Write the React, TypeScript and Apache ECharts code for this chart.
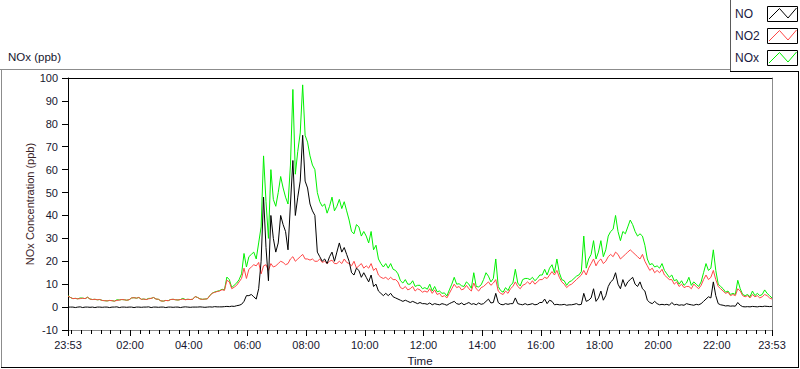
import React, { useEffect, useRef } from "react";
import * as echarts from "echarts";

// 5-minute samples starting at 23:53 (t = -7 min relative to midnight)
const START_MIN = -7;
const STEP_MIN = 5;

const NO_VALUES: number[] = [
  0, 0,
  0, -0.2, 0, 0.1, -0.2, 0, 0, -0.1, 0, -0.2, 0, 0,
  -0.1, 0, 0, -0.2, 0, 0, 0.1, -0.2, 0, 0, -0.1, 0,
  0, -0.2, 0, 0, -0.1, 0, 0, 0.1, -0.2, 0, 0, -0.1,
  0, 0, -0.2, 0, 0, -0.1, 0, 0, -0.2, 0, 0.1, 0,
  -0.1, 0, 0, 0, 0.1, 0, -0.1, 0, 0.1, 0, 0.2, 0.1,
  0.1, 0.1, 0.2, 0.3, 0.2, 0.4, 0.3, 0.6, 0.8, 1.2, 2.5, 5.0,
  5.0, 5.5, 4.5, 3.5, 8.0, 20.0, 48.0, 26.0, 11.5, 40.0, 30.0, 24.0,
  28, 40, 36, 33, 25, 45, 64, 40, 48, 55, 75, 55,
  52, 45, 42, 40, 24, 22, 20, 21, 19, 22, 24, 20,
  24, 28, 24, 26, 23, 20, 15, 14, 17, 16, 13, 15,
  13, 11, 14, 9, 10, 7, 6, 5, 6, 5, 6, 4.5,
  4, 3.5, 3, 2.5, 3, 2.5, 2, 2.5, 2, 1.5, 2, 1.5,
  1.5, 1.2, 1.8, 1.0, 1.5, 1.2, 1.0, 1.5, 1.2, 0.8, 1.5, 2.0,
  2.5, 1.5, 1.2, 1.8, 1.0, 1.5, 2.0, 1.2, 1.5, 1.0, 1.8, 1.2,
  1.5, 2.5, 3.5, 1.8, 2.0, 6.0, 2.0, 1.2, 1.0, 1.5, 1.2, 1.5,
  1.5, 4.0, 1.5, 1.2, 1.0, 1.5, 1.0, 1.2, 1.5, 1.0, 1.2, 2.0,
  2.0, 3.5, 1.5, 3.0, 2.5, 1.0, 1.2, 1.0, 1.0, 1.2, 0.8, 1.0,
  1.0, 1.2, 1.5, 1.0, 1.2, 6.0, 2.5, 3.0, 4.0, 8.0, 2.5, 4.0,
  7, 3, 5, 9, 11, 12, 15, 10, 8, 12, 9, 11,
  12, 13, 10, 9, 11, 8, 7, 3, 2, 1.5, 2.5, 1.5,
  1.0, 1.2, 1.0, 1.2, 0.8, 2.0, 1.0, 1.2, 0.8, 1.0, 0.8, 1.5,
  1.2, 1.0, 0.8, 1.2, 1.0, 1.5, 2.5, 3.5, 4.5, 4.0, 11, 5,
  1.5, 1.0, 0.8, 0.5, 0.6, 0.4, 0.5, 0.4, 2.0, 0.8, 0.2, 0.1,
  0.2, 0.1, 0.3, 0.2, 0.1, 0.3, 0.2, 0.4, 0.3, 0.2, 0.3,
];

const NO2_VALUES: number[] = [
  4.8, 4.2,
  3.7, 3.8, 3.6, 3.7, 3.9, 3.7, 4.3, 3.5, 3.3, 3.4, 3.2, 3.3,
  2.9, 2.8, 2.7, 2.9, 2.8, 2.6, 2.9, 3.1, 3.3, 3.2, 3.0, 3.2,
  4.0, 4.1, 3.9, 4.2, 3.4, 3.5, 3.3, 3.6, 3.8, 4.2, 3.5, 3.4,
  2.7, 2.6, 2.9, 2.8, 3.3, 3.4, 3.2, 3.1, 3.3, 3.5, 3.2, 3.4,
  3.3, 3.4, 4.6, 4.2, 3.5, 3.4, 3.5, 3.6, 4.9, 6.1, 6.4, 6.8,
  7.0, 7.6, 7.3, 11.7, 11.0, 8.0, 8.7, 9.5, 11.0, 12.5, 17.0, 12.5,
  16.5, 17.5, 18.5, 18.0, 19.5, 14.5, 18.0, 18.5, 16.0, 19.0, 17.5, 18.0,
  19, 20, 19.5, 18.5, 19, 21, 22, 20, 21, 22, 23, 21,
  21, 20.5, 21, 20, 20, 21, 19.5, 20, 19, 20, 20.5, 19,
  19, 20, 19, 21, 19.5, 19, 18, 20, 17, 18, 19, 17,
  18, 17, 19, 16, 17, 14, 13, 12.5, 13, 12, 13, 12,
  12, 11, 8.5, 8, 9, 7.5, 8, 9, 7, 8, 7.5, 6.5,
  7, 6.5, 8, 6, 7.5, 5.5, 6, 4.5, 5, 4, 6, 8,
  10, 8.5, 9, 7.5, 8, 9.5, 8, 7, 10.5, 8, 7, 8.5,
  9, 10, 11, 9.5, 10.5, 12, 7, 6, 5.5, 7, 6, 8,
  9, 11, 9, 8, 9.5, 10, 11, 10, 11.5, 10, 11, 12,
  12, 13, 12.5, 14, 15.5, 14, 16, 13, 11, 10, 8.5, 9.5,
  10, 11, 12, 13, 14, 16, 14, 17, 19, 21, 18, 20,
  21, 19, 20, 22, 23, 22, 24, 23, 21, 22, 23, 24,
  25, 24, 23, 22, 21, 23, 20, 18, 16, 17, 15, 16,
  15, 16.5, 14, 13, 12, 12, 10, 11, 9, 10, 8.5, 9,
  9, 8, 10, 9, 8, 9.5, 12, 14, 12, 13, 16, 12,
  9, 8, 7, 6, 6.5, 5, 5.5, 5, 8, 7, 5, 4.5,
  5, 4, 5.5, 4.5, 5, 4, 4.5, 5.5, 5, 4, 3.5,
];

const NOX_VALUES: number[] = [
  5.0, 4.2,
  3.7, 3.8, 3.6, 4.0, 3.9, 3.7, 4.3, 3.5, 3.3, 3.4, 3.2, 3.3,
  2.9, 2.8, 2.7, 2.9, 2.8, 2.6, 3.2, 3.1, 3.3, 3.2, 3.0, 3.2,
  4.0, 4.1, 3.9, 4.2, 3.4, 3.5, 3.3, 3.8, 3.8, 4.2, 3.5, 3.4,
  2.7, 2.6, 2.9, 2.8, 3.3, 3.4, 3.2, 3.1, 3.3, 3.8, 3.3, 3.4,
  3.3, 3.4, 4.6, 4.2, 3.6, 3.4, 3.5, 3.6, 5.0, 6.1, 6.6, 6.9,
  7.2, 7.8, 7.5, 13.1, 12.0, 8.5, 9.6, 10.5, 12.0, 14.5, 23.4, 17.5,
  22.0, 23.0, 24.0, 21.0, 28.0, 35.0, 66.0, 46.0, 30.0, 60.0, 47.0, 44.0,
  50, 57, 52, 48, 45, 62, 95, 58, 68, 76, 97, 75,
  72, 66, 62, 60, 50, 46, 44, 45, 41, 44, 48, 42,
  44, 47, 43, 46, 42, 38, 33, 32, 36, 35, 31, 33,
  31, 28, 33, 25, 27, 21, 19, 17.5, 19, 17, 19, 16.5,
  16, 14.5, 11.5, 10.5, 12, 10, 10, 11.5, 9, 9.5, 9.5, 8,
  8.5, 7.8, 10, 7, 9, 6.7, 7, 6, 6.2, 4.8, 7.5, 10,
  13, 10, 10.2, 9.3, 9, 11, 10, 8.2, 15, 9, 8.8, 9.7,
  12, 15, 13.5, 11, 12.5, 21, 9, 7.2, 6.5, 8.5, 7.2, 9.5,
  10.5, 16.5, 10.5, 9.2, 12, 12.5, 12.5, 12, 13, 11.5, 12.5, 14,
  14, 16.5, 14, 17, 18.5, 15, 21, 15, 12, 11.5, 9.5, 11,
  11.5, 12.5, 13.5, 14, 15.5, 31, 17, 21, 23, 29, 21, 24,
  29, 22, 25, 31, 33, 34, 40, 33, 29, 33, 32, 35,
  38, 36, 33, 31, 32, 31, 27, 21, 18.5, 19, 17.5, 18,
  17, 19, 16, 14.5, 13, 14, 11.5, 12, 10, 11.5, 9.5, 10.5,
  13, 9.5, 11, 10, 9, 11, 15, 19, 16, 17, 25, 16,
  10, 9, 8, 6.5, 7, 5.5, 6, 5.5, 11.7, 8, 5.5, 5,
  5.5, 4.5, 7, 5, 6, 5, 5.5, 7.5, 6, 5, 4,
];

const X_MIN = -7;
const X_MAX = 1433;
const MAJOR_TICKS = [-7, 120, 240, 360, 480, 600, 720, 840, 960, 1080, 1200, 1320, 1433];
const MINOR_TICKS: number[] = [];
for (let m = 0; m < 1440; m += 20) MINOR_TICKS.push(m);

const SERIES_NAMES = ["NO", "NO2", "NOx"];
const SERIES_COLORS = ["#000000", "#ff4646", "#00f000"];

function toPairs(vals: number[]): [number, number][] {
  return vals.map((v, i) => [START_MIN + STEP_MIN * i, v]);
}

function fmtTime(m: number): string {
  const mm = ((Math.round(m) % 1440) + 1440) % 1440;
  const h = Math.floor(mm / 60);
  const mi = mm % 60;
  return String(h).padStart(2, "0") + ":" + String(mi).padStart(2, "0");
}

const FONT = "'Liberation Sans', Arial, sans-serif";
const TXT = "#16162e";

export default function App() {
  const ref = useRef<HTMLDivElement>(null);
  useEffect(() => {
    if (!ref.current) return;
    const chart = echarts.init(ref.current, null, { renderer: "svg" });

    const legendEls: any[] = [];
    SERIES_NAMES.forEach((name, k) => {
      const yTop = 6 + 22 * k;
      legendEls.push({
        type: "text",
        x: 735,
        y: yTop + 7.5,
        style: { text: name, fill: "#1a1a40", font: `12px ${FONT}`, verticalAlign: "middle", textAlign: "left" },
      });
      legendEls.push({
        type: "rect",
        shape: { x: 767.5, y: yTop + 0.5, width: 30, height: 15 },
        style: { fill: "#ffffff", stroke: "#000000", lineWidth: 1 },
      });
      legendEls.push({
        type: "polyline",
        shape: { points: [[769, yTop + 13], [779.5, yTop + 2.5], [788, yTop + 12], [796.5, yTop + 2]] },
        style: { stroke: SERIES_COLORS[k], lineWidth: 1, fill: null },
      });
    });

    const option: any = {
      animation: false,
      backgroundColor: "#ffffff",
      textStyle: { fontFamily: FONT },
      title: {
        text: "NOx (ppb)",
        left: 3,
        top: 46,
        textStyle: { fontSize: 11.5, fontWeight: "normal", color: TXT, fontFamily: FONT },
      },
      grid: { left: 68, right: 28, top: 78, bottom: 39, containLabel: false, outerBoundsMode: "none" },
      xAxis: [
        {
          type: "value",
          min: X_MIN,
          max: X_MAX,
          position: "bottom",
          name: "Time",
          nameLocation: "middle",
          nameGap: 25,
          nameMoveOverlap: false,
          nameTextStyle: { fontSize: 11.5, color: TXT, fontFamily: FONT },
          axisLine: { show: true, onZero: false, lineStyle: { color: "#8c8c8c", width: 1 } },
          axisTick: { show: true, customValues: MAJOR_TICKS, length: 6, lineStyle: { color: "#000" } },
          axisLabel: {
            show: true,
            customValues: MAJOR_TICKS,
            formatter: (v: number) => fmtTime(v),
            fontSize: 11,
            color: TXT,
            margin: 9,
            fontFamily: FONT,
          },
          splitLine: { show: false },
        },
        {
          type: "value",
          min: X_MIN,
          max: X_MAX,
          position: "bottom",
          axisLine: { show: false, onZero: false },
          axisTick: { show: true, customValues: MINOR_TICKS, length: 4, lineStyle: { color: "#000" } },
          axisLabel: { show: false },
          splitLine: { show: false },
        },
        {
          type: "value",
          min: X_MIN,
          max: X_MAX,
          position: "top",
          axisLine: { show: true, onZero: false, lineStyle: { color: "#000", width: 1 } },
          axisTick: { show: false },
          axisLabel: { show: false },
          splitLine: { show: false },
        },
      ],
      yAxis: [
        {
          type: "value",
          min: -10,
          max: 100,
          interval: 10,
          position: "left",
          name: "NOx Concentration (ppb)",
          nameLocation: "middle",
          nameRotate: 90,
          nameGap: 33,
          nameMoveOverlap: false,
          nameTextStyle: { fontSize: 11, color: "#3a2226", fontFamily: FONT },
          axisLine: { show: true, onZero: false, lineStyle: { color: "#000", width: 1 } },
          axisTick: { show: true, length: 6, lineStyle: { color: "#000" } },
          axisLabel: { fontSize: 11, color: TXT, margin: 10, fontFamily: FONT },
          splitLine: { show: false },
        },
        {
          type: "value",
          min: -10,
          max: 100,
          interval: 10,
          position: "right",
          axisLine: { show: true, onZero: false, lineStyle: { color: "#8c8c8c", width: 1 } },
          axisTick: { show: false },
          axisLabel: { show: false },
          splitLine: { show: false },
        },
      ],
      series: [
        {
          name: "NOx",
          type: "line",
          data: toPairs(NOX_VALUES),
          showSymbol: false,
          symbol: "none",
          lineStyle: { color: SERIES_COLORS[2], width: 1 },
          itemStyle: { color: SERIES_COLORS[2] },
          xAxisIndex: 0,
          yAxisIndex: 0,
          z: 2,
        },
        {
          name: "NO2",
          type: "line",
          data: toPairs(NO2_VALUES),
          showSymbol: false,
          symbol: "none",
          lineStyle: { color: SERIES_COLORS[1], width: 1 },
          itemStyle: { color: SERIES_COLORS[1] },
          xAxisIndex: 0,
          yAxisIndex: 0,
          z: 3,
        },
        {
          name: "NO",
          type: "line",
          data: toPairs(NO_VALUES),
          showSymbol: false,
          symbol: "none",
          lineStyle: { color: SERIES_COLORS[0], width: 1 },
          itemStyle: { color: SERIES_COLORS[0] },
          xAxisIndex: 0,
          yAxisIndex: 0,
          z: 4,
        },
      ],
      graphic: [
        {
          type: "group",
          silent: true,
          children: [
            { type: "line", shape: { x1: 0, y1: 69.5, x2: 730, y2: 69.5 }, style: { stroke: "#8c8c8c", lineWidth: 1 } },
            { type: "line", shape: { x1: 1.5, y1: 69, x2: 1.5, y2: 367 }, style: { stroke: "#8c8c8c", lineWidth: 1 } },
            { type: "line", shape: { x1: 1, y1: 367.5, x2: 799, y2: 367.5 }, style: { stroke: "#000", lineWidth: 1 } },
            { type: "line", shape: { x1: 798.5, y1: 71, x2: 798.5, y2: 368 }, style: { stroke: "#000", lineWidth: 1 } },
            { type: "line", shape: { x1: 730.5, y1: 0, x2: 730.5, y2: 71 }, style: { stroke: "#5a5a5a", lineWidth: 1 } },
            { type: "line", shape: { x1: 730, y1: 71.5, x2: 799, y2: 71.5 }, style: { stroke: "#000", lineWidth: 1 } },
            ...legendEls,
          ],
        },
      ],
    };
    chart.setOption(option);
    return () => chart.dispose();
  }, []);

  return (
    <div
      ref={ref}
      style={{ position: "fixed", left: 0, top: 0, width: 800, height: 369, background: "#fff" }}
    />
  );
}
